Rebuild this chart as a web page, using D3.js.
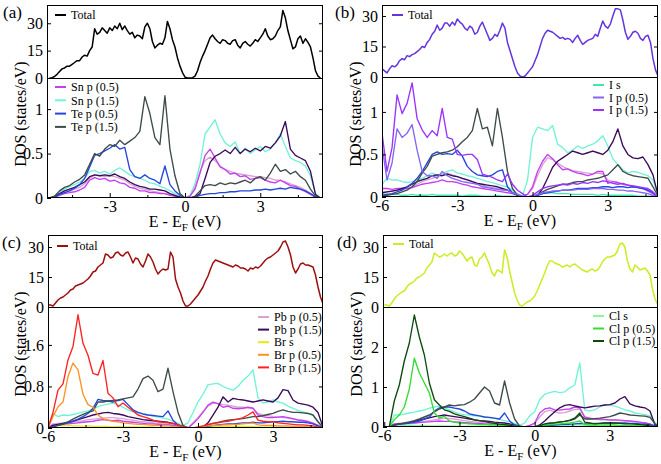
<!DOCTYPE html>
<html><head><meta charset="utf-8">
<script src="https://cdn.jsdelivr.net/npm/d3@7/dist/d3.min.js"></script>
<style>
body{margin:0;background:#fff}
svg{display:block}
text{font-family:"Liberation Serif","Times New Roman",serif;fill:#000}
</style>
</head><body>
<svg id="chart" width="661" height="464"></svg>
<script>
// ---------- DATA ----------
// totals: energy = start + i*0.1 eV ; partial DOS: energy = start + i*0.2 eV
const E_STEP_TOTAL = 0.1;
const E_STEP = 0.2;
const E_START_A = -5.4;
const E_START_BCD = -6.0;

const topTicks = [0, 15, 30];
const xTicksA = [-3, 0, 3];
const xTicksBCD = [-6, -3, 0, 3];
const xMinor = [-4.5, -1.5, 1.5, 4.5];
const botTicksA = [0, 0.5, 1];
const botTicksB = [0, 0.5, 1];
const botTicksC = [0, 0.8, 1.6];
const botTicksD = [0, 1, 2];

// Panel (a)
const totalA = [0,0.2,0.8,2,3.5,5,5.5,6.5,6.5,7.5, 8.5,9.5,9.5,11.5,12.5,12,15,17,27,24, 25,27.5,26,24.5,27.5,26,28.5,27,30,26.5, 28.5,26,24,25,22,23.5,23,21.5,28,30, 27,20,16.5,18,19,18.5,22,31,27,21, 17,11,6.5,3,0.5,0,0,0.2,1,4, 8.5,12,15,18.5,22,23.5,21.5,20,19,21, 20.5,19,18.5,20.5,21,18,16.5,19,20,18.5, 17.5,19,21,20,22,24,27,23,21,21.5, 23,26,28,37,33,26,21,16,17,21.5, 23,19,21.5,19.5,17,11,4,1,0];
const snP05A = [0,0.01,0.03,0.05,0.06,0.07,0.09,0.12,0.2,0.23, 0.21,0.22,0.19,0.2,0.17,0.16,0.12,0.11,0.08,0.08, 0.06,0.06,0.05,0.05,0.03,0.02,0.01, 0, 0.02,0.1,0.28,0.48,0.55,0.45,0.35,0.32,0.27,0.28, 0.24,0.25,0.21,0.22,0.23,0.2,0.18,0.17,0.2,0.17, 0.14,0.13,0.1,0.07,0.04,0.01,0];
const snP15A = [0,0.02,0.07,0.1,0.13,0.15,0.18,0.22,0.3,0.31, 0.28,0.3,0.27,0.31,0.34,0.3,0.26,0.24,0.22,0.2, 0.17,0.16,0.13,0.11,0.08,0.05,0.02, 0, 0.03,0.16,0.38,0.72,0.8,0.88,0.72,0.62,0.58,0.63, 0.5,0.56,0.5,0.54,0.58,0.52,0.55,0.62,0.72,0.58, 0.45,0.42,0.4,0.36,0.25,0.05,0];
const teP05A = [0,0.01,0.04,0.06,0.08,0.11,0.15,0.22,0.35,0.48, 0.5,0.53,0.56,0.6,0.55,0.57,0.32,0.24,0.22,0.26, 0.22,0.2,0.16,0.36,0.15,0.08,0.03, 0, 0,0.01,0.03,0.04,0.05,0.05,0.06,0.06,0.07,0.07, 0.08,0.08,0.08,0.09,0.09,0.1,0.09,0.1,0.11,0.1, 0.12,0.11,0.1,0.08,0.05,0.01,0];
const teP15A = [0,0.02,0.08,0.12,0.14,0.18,0.21,0.26,0.38,0.5, 0.47,0.55,0.6,0.58,0.65,0.6,0.64,0.68,0.75,1.14, 0.95,0.68,0.6,1.15,0.55,0.25,0.05, 0, 0,0.02,0.08,0.14,0.15,0.14,0.17,0.15,0.17,0.16, 0.18,0.2,0.17,0.22,0.24,0.2,0.28,0.38,0.3,0.32, 0.27,0.3,0.24,0.2,0.1,0.02,0];
const xP05A = [0,0.01,0.04,0.06,0.08,0.1,0.12,0.16,0.22,0.26, 0.25,0.24,0.25,0.24,0.22,0.2,0.16,0.13,0.11,0.1, 0.08,0.07,0.06,0.05,0.04,0.02,0.01, 0, 0.02,0.12,0.3,0.42,0.46,0.42,0.36,0.32,0.3,0.28, 0.27,0.26,0.25,0.24,0.24,0.23,0.22,0.2,0.2,0.18, 0.16,0.14,0.12,0.09,0.05,0.01,0];
const xP15A = [0,0.01,0.05,0.08,0.1,0.12,0.15,0.18,0.24,0.26, 0.25,0.26,0.25,0.27,0.24,0.22,0.18,0.15,0.13,0.12, 0.1,0.1,0.09,0.08,0.05,0.03,0.01, 0, 0,0.01,0.05,0.22,0.4,0.47,0.5,0.54,0.5,0.57, 0.5,0.55,0.52,0.56,0.53,0.58,0.56,0.62,0.7,0.86, 0.55,0.48,0.45,0.42,0.3,0.04,0];

// Panel (b)
const totalB = [4,3,2,4,5.5,5,6,8,9,8.5, 10.5,10,11,11.5,12.5,13.5,15,14.5,17,18.5, 21,22.5,25.5,23,24,26.5,26.5,25,27,25.5, 28.5,27,26,24,23,25,24,21,22,25, 27,24,21,18,19,21,20,23,26.5,24, 17,13,9,5,2,0.5,0,0.5,2,3.5, 5,8,11,15,19,21.5,23,22.5,22,21, 20,19,19.5,18.5,19,18.5,17,19,20.5,18, 16,17,18,18.5,19,21,20,24,27.5,25, 24,26,30,33.5,33.5,33,28,22,18.5,20, 22,22.5,21.5,19,18,20,20.5,17,9,3.5, 0.5];
const iSB = [0.04,0.03,0.03,0.03,0.02,0.02,0.03,0.02,0.02,0.02, 0.03,0.02,0.02,0.02,0.02,0.02,0.01,0.02,0.02,0.02, 0.01,0.01,0.01,0.02,0.01,0.01,0.01,0,0,0, 0,0.02,0.04,0.05,0.05,0.04,0.04,0.04,0.03,0.03, 0.03,0.03,0.03,0.02,0.03,0.02,0.02,0.02,0.02,0.02, 0.02,0.01,0.01,0.01,0.01,0];
const iP05B = [0.6,0.2,0.4,0.8,0.7,0.75,0.85,0.55,0.3,0.25, 0.25,0.22,0.3,0.25,0.22,0.2,0.18,0.17,0.16,0.15, 0.12,0.11,0.1,0.09,0.08,0.08,0.05,0.03,0.01,0, 0.01,0.03,0.05,0.06,0.07,0.07,0.08,0.08,0.08,0.09, 0.09,0.09,0.1,0.1,0.1,0.09,0.09,0.08,0.08,0.07, 0.07,0.06,0.05,0.04,0.02,0];
const iP15B = [0.75,0.3,0.58,1.2,0.98,1.1,1.34,0.92,0.79,0.7, 0.78,0.72,1.04,0.7,0.68,0.5,0.49,0.5,0.5,0.44, 0.27,0.25,0.23,0.2,0.18,0.27,0.15,0.08,0.04,0, 0.02,0.06,0.1,0.12,0.13,0.14,0.15,0.14,0.16,0.15, 0.17,0.16,0.18,0.17,0.19,0.18,0.16,0.15,0.16,0.14, 0.13,0.12,0.11,0.1,0.06,0];
const snP15B = [0.15,0.22,0.2,0.2,0.18,0.17,0.18,0.2,0.22,0.25, 0.28,0.26,0.27,0.3,0.32,0.28,0.27,0.25,0.24,0.22, 0.2,0.18,0.17,0.15,0.13,0.12,0.08,0.04,0.01,0.2, 0.7,0.82,0.8,0.78,0.84,0.62,0.58,0.52,0.55,0.6, 0.57,0.6,0.62,0.66,0.72,0.6,0.45,0.38,0.32,0.28, 0.3,0.29,0.27,0.25,0.2,0.03];
const snP05B = [0.1,0.1,0.09,0.1,0.1,0.1,0.11,0.13,0.15,0.16, 0.17,0.18,0.2,0.18,0.18,0.17,0.15,0.14,0.12,0.11, 0.1,0.09,0.08,0.07,0.06,0.05,0.04,0.02,0.01,0.03, 0.12,0.3,0.42,0.5,0.45,0.38,0.32,0.33,0.3,0.28, 0.27,0.25,0.27,0.3,0.3,0.16,0.18,0.17,0.15,0.14, 0.12,0.11,0.1,0.07,0.04,0];
const xP05B = [0.05,0.06,0.07,0.08,0.09,0.1,0.12,0.15,0.18,0.2, 0.22,0.24,0.26,0.28,0.26,0.24,0.22,0.2,0.18,0.16, 0.14,0.12,0.11,0.1,0.09,0.08,0.05,0.03,0.01,0.03, 0.1,0.25,0.38,0.46,0.44,0.4,0.36,0.33,0.31,0.3, 0.29,0.28,0.27,0.28,0.27,0.2,0.18,0.17,0.15,0.14, 0.13,0.12,0.1,0.08,0.05,0];
const xP15B = [0.05,0.06,0.07,0.08,0.1,0.12,0.15,0.18,0.2,0.22, 0.25,0.26,0.25,0.27,0.25,0.24,0.22,0.2,0.18,0.16, 0.15,0.14,0.13,0.12,0.1,0.08,0.05,0.02,0,0, 0,0.02,0.1,0.22,0.35,0.42,0.46,0.5,0.54,0.52, 0.5,0.52,0.54,0.52,0.5,0.55,0.65,0.8,0.6,0.5, 0.46,0.45,0.47,0.38,0.26,0.02];
const teP05B = [0.02,0.03,0.04,0.06,0.08,0.12,0.16,0.22,0.3,0.4, 0.5,0.53,0.5,0.51,0.5,0.55,0.48,0.36,0.3,0.26, 0.25,0.24,0.26,0.3,0.32,0.12,0.05,0.02,0,0, 0,0.02,0.04,0.05,0.06,0.07,0.08,0.08,0.09,0.1, 0.1,0.1,0.11,0.11,0.12,0.12,0.11,0.12,0.12,0.11, 0.12,0.11,0.1,0.08,0.05,0];
const teP15B = [0.01,0.02,0.03,0.04,0.06,0.08,0.12,0.18,0.28,0.36, 0.48,0.5,0.52,0.53,0.55,0.59,0.65,0.7,0.78,1.04, 0.8,0.82,0.6,1.04,0.7,0.3,0.1,0.02,0,0, 0,0.03,0.06,0.09,0.11,0.13,0.15,0.15,0.17,0.18, 0.18,0.2,0.21,0.22,0.24,0.26,0.32,0.38,0.3,0.27, 0.25,0.24,0.23,0.22,0.12,0.01];

// Panel (c)
const totalC = [1,1,0.5,2,3.5,4.5,5,6,7,8.5, 9,10.5,11,11.5,12,13,14,15.5,17.5,18, 20,21,22,26.5,26,24.5,25,27,27.5,26, 25.5,27,27.5,25,22,24.5,24,21.5,20,23, 26.5,25,22.5,19,16.5,18,19,18.5,19,27.5, 25,14,10,7,3,0.5,0.5,1.5,3,4.5, 6,8,10,13,15.5,19,22,23.5,23,22.5, 22,21.5,21,20.5,20,21,20.5,19.5,19.5,19, 18,19.5,19,20,19.5,20.5,22,23.5,24.5,25, 26,27,28,30,32.5,33,30,26,20,17, 19,21.5,22,21,21,20.5,20,16,10,5, 1.5];
const brSC = [0,0.04,0.05,0.04,0.05,0.04,0.04,0.03,0.04,0.03, 0.03,0.03,0.03,0.02,0.03,0.02,0.02,0.02,0.02,0.02, 0.02,0.02,0.01,0.02,0.01,0.01,0.01,0,0,0, 0,0.01,0.02,0.03,0.03,0.03,0.03,0.03,0.03,0.03, 0.03,0.03,0.02,0.02,0.02,0.02,0.02,0.02,0.02,0.02, 0.02,0.01,0.01,0.01,0,0];
const brP05C = [0,0.22,0.41,0.5,0.99,1.25,1.12,0.65,0.45,0.4, 0.25,0.18,0.15,0.13,0.12,0.1,0.09,0.08,0.07,0.07, 0.06,0.05,0.05,0.04,0.04,0.03,0.02,0.01,0,0, 0.01,0.03,0.04,0.05,0.05,0.06,0.06,0.07,0.07,0.08, 0.09,0.1,0.06,0.05,0.05,0.05,0.04,0.04,0.04,0.03, 0.03,0.03,0.02,0.02,0.01,0];
const brP15C = [0,0.3,0.73,0.85,1.31,1.57,2.18,1.63,1.4,1.05, 1.02,1.3,0.67,0.58,0.41,0.48,0.4,0.33,0.25,0.22, 0.19,0.15,0.12,0.11,0.1,0.09,0.06,0.03,0.01,0, 0.02,0.04,0.07,0.09,0.1,0.12,0.13,0.15,0.17,0.2, 0.25,0.31,0.15,0.13,0.12,0.12,0.1,0.09,0.08,0.07, 0.06,0.06,0.05,0.04,0.02,0];
const snP15C = [0,0.28,0.22,0.25,0.24,0.26,0.28,0.31,0.33,0.36, 0.41,0.44,0.46,0.48,0.45,0.4,0.35,0.31,0.29,0.27, 0.25,0.23,0.21,0.19,0.17,0.13,0.09,0.05,0.1,0.3, 0.5,0.65,0.83,0.85,0.86,0.8,0.76,0.73,0.8,0.92, 1.0,1.12,0.58,0.48,0.5,0.54,0.5,0.48,0.42,0.38, 0.34,0.31,0.28,0.25,0.12,0.02];
const snP05C = [0,0.06,0.07,0.08,0.08,0.09,0.1,0.11,0.12,0.13, 0.15,0.16,0.15,0.14,0.15,0.13,0.12,0.11,0.1,0.09, 0.08,0.08,0.07,0.06,0.06,0.05,0.03,0.01,0,0.08, 0.18,0.3,0.44,0.5,0.47,0.4,0.42,0.38,0.37,0.38, 0.4,0.38,0.25,0.22,0.2,0.2,0.21,0.22,0.2,0.18, 0.15,0.14,0.12,0.09,0.05,0];
const pbP05C = [0,0.08,0.09,0.1,0.11,0.12,0.13,0.14,0.16,0.17, 0.18,0.19,0.2,0.2,0.19,0.18,0.16,0.15,0.13,0.12, 0.11,0.1,0.09,0.08,0.07,0.06,0.04,0.02,0,0.1, 0.2,0.32,0.42,0.48,0.47,0.45,0.44,0.42,0.4,0.4, 0.39,0.38,0.28,0.25,0.24,0.22,0.21,0.2,0.19,0.17, 0.16,0.15,0.13,0.1,0.05,0];
const pbP15C = [0,0.05,0.07,0.09,0.11,0.13,0.16,0.19,0.22,0.25, 0.27,0.29,0.3,0.28,0.27,0.25,0.22,0.2,0.18,0.16, 0.15,0.14,0.13,0.12,0.11,0.09,0.06,0.02,0,0, 0,0.02,0.1,0.25,0.4,0.6,0.5,0.57,0.55,0.54, 0.52,0.5,0.52,0.54,0.52,0.5,0.58,0.74,0.72,0.54, 0.48,0.46,0.44,0.4,0.3,0.02];
const teP05C = [0,0.03,0.05,0.07,0.1,0.13,0.17,0.22,0.28,0.38, 0.55,0.53,0.52,0.5,0.53,0.55,0.45,0.35,0.3,0.27, 0.25,0.24,0.23,0.22,0.33,0.15,0.06,0.02,0,0, 0,0.01,0.03,0.05,0.06,0.07,0.08,0.08,0.09,0.1, 0.1,0.11,0.1,0.1,0.11,0.12,0.12,0.13,0.12,0.12, 0.11,0.11,0.1,0.08,0.04,0];
const teP15C = [0,0.02,0.05,0.08,0.12,0.17,0.22,0.26,0.3,0.33, 0.5,0.5,0.52,0.53,0.54,0.56,0.58,0.6,0.75,0.95, 1.0,0.92,0.7,0.75,1.15,0.7,0.3,0.05,0,0, 0,0.03,0.06,0.09,0.11,0.13,0.15,0.16,0.17,0.18, 0.2,0.22,0.22,0.24,0.26,0.28,0.32,0.35,0.32,0.3, 0.3,0.29,0.28,0.25,0.12,0.01];

// Panel (d)
const totalD = [1,1,0.5,2,4,5.5,6.5,7.5,8,10, 11.5,12,13,14.5,15,16,17,19.5,21,22.5, 27,26,25,25.5,26.5,25.5,26.5,27,25.5,26, 28,27,25,23,24.5,25,21,20.5,24,25, 27,24,21,17,15.5,18.5,18,17,28.5,25, 18,12.5,7,3.5,1,0.5,1.5,2.5,3,4, 5.5,8,11,14,17,20.5,23,23,22,21.5, 21,20,20.5,21,20,21,21.5,20.5,19.5,18.5, 18,17.5,18.5,19,18,18.5,20,22.5,24,25, 25,25.5,26,28,31.5,32,30,23,19,17.5, 21,20,18.5,19,19.5,18,16,9,4,1.5, 0];
const clSD = [0,0,0.03,0.04,0.04,0.05,0.04,0.04,0.04,0.03, 0.03,0.03,0.03,0.03,0.02,0.02,0.02,0.02,0.02,0.02, 0.02,0.01,0.01,0.01,0.01,0.01,0.01,0,0,0, 0,0.01,0.02,0.03,0.03,0.04,0.04,0.04,0.05,0.06, 0.03,0.03,0.03,0.02,0.02,0.02,0.02,0.02,0.02,0.02, 0.02,0.01,0.01,0.01,0,0];
const clP05D = [0,0,0.18,0.3,0.5,0.95,1.72,1.35,1.1,0.85, 0.35,0.22,0.27,0.15,0.12,0.1,0.09,0.08,0.07,0.06, 0.06,0.05,0.05,0.04,0.04,0.03,0.02,0.01,0,0, 0,0.02,0.05,0.06,0.07,0.08,0.09,0.1,0.12,0.15, 0.06,0.05,0.05,0.05,0.05,0.05,0.05,0.04,0.04,0.04, 0.04,0.03,0.03,0.02,0.01,0];
const clP15D = [0,0,0.65,1.05,1.65,2.1,2.8,2.25,1.8,1.1, 0.68,0.55,0.43,0.39,0.33,0.29,0.26,0.22,0.18,0.16, 0.14,0.11,0.09,0.07,0.06,0.04,0.02,0.01,0,0, 0,0.03,0.08,0.1,0.11,0.13,0.14,0.17,0.22,0.35, 0.12,0.1,0.08,0.09,0.1,0.1,0.1,0.09,0.08,0.08, 0.07,0.06,0.05,0.03,0.01,0];
const snP15D = [0,0,0.3,0.3,0.32,0.35,0.37,0.4,0.43,0.47, 0.5,0.52,0.48,0.43,0.38,0.33,0.31,0.3,0.28,0.27, 0.25,0.23,0.21,0.19,0.16,0.13,0.09,0.04,0.1,0.28, 0.38,0.68,0.82,0.86,0.89,0.86,0.88,0.98,1.05,1.6, 0.42,0.4,0.43,0.5,0.56,0.54,0.52,0.48,0.43,0.4, 0.35,0.33,0.31,0.28,0.12,0];
const snP05D = [0,0,0.08,0.09,0.09,0.1,0.1,0.11,0.12,0.13, 0.14,0.15,0.14,0.14,0.13,0.12,0.11,0.1,0.09,0.09, 0.08,0.07,0.07,0.06,0.05,0.04,0.03,0.01,0,0.04, 0.1,0.35,0.45,0.48,0.43,0.42,0.44,0.45,0.5,0.48, 0.25,0.22,0.2,0.2,0.19,0.18,0.18,0.17,0.16,0.15, 0.14,0.12,0.1,0.08,0.03,0];
const xP05D = [0,0,0.06,0.07,0.08,0.09,0.1,0.12,0.14,0.16, 0.18,0.2,0.22,0.21,0.2,0.18,0.16,0.14,0.13,0.12, 0.11,0.1,0.09,0.08,0.07,0.05,0.03,0.01,0,0.03, 0.08,0.25,0.38,0.42,0.38,0.35,0.36,0.4,0.44,0.45, 0.22,0.2,0.19,0.18,0.18,0.17,0.17,0.16,0.15,0.14, 0.13,0.11,0.1,0.07,0.02,0];
const xP15D = [0,0,0.05,0.07,0.09,0.11,0.14,0.17,0.2,0.23, 0.26,0.28,0.3,0.28,0.26,0.24,0.22,0.2,0.18,0.16, 0.15,0.14,0.12,0.11,0.1,0.08,0.05,0.02,0,0, 0,0.05,0.15,0.27,0.38,0.48,0.54,0.56,0.53,0.5, 0.48,0.5,0.52,0.53,0.55,0.56,0.6,0.7,0.76,0.58, 0.53,0.5,0.48,0.4,0.05,0];
const teP05D = [0,0,0.05,0.07,0.08,0.1,0.12,0.15,0.2,0.25, 0.4,0.48,0.5,0.5,0.47,0.45,0.4,0.33,0.3,0.28, 0.25,0.24,0.22,0.2,0.35,0.15,0.05,0.01,0,0, 0,0.01,0.03,0.04,0.05,0.06,0.07,0.07,0.08,0.09, 0.08,0.08,0.09,0.09,0.1,0.1,0.1,0.1,0.1,0.09, 0.09,0.08,0.07,0.06,0.02,0];
const teP15D = [0,0,0.05,0.08,0.1,0.13,0.16,0.2,0.25,0.3, 0.38,0.45,0.5,0.55,0.53,0.55,0.56,0.62,0.7,0.85, 1.0,0.9,0.6,0.55,1.15,0.6,0.2,0.02,0,0, 0,0.03,0.06,0.08,0.1,0.12,0.14,0.16,0.2,0.3, 0.2,0.2,0.21,0.22,0.24,0.26,0.3,0.35,0.33,0.3, 0.29,0.28,0.27,0.24,0.08,0];

// ---------- COLOURS ----------
const C = {
  snP05:'#c43ff0', snP15:'#72f2d6', teP05:'#2346dc', teP15:'#3e4b4b',
  xP05:'#d9a2d2', xP15:'#3a0a5c',
  iS:'#3ee6b4', iP05:'#8466f2', iP15:'#9a33ff',
  brS:'#e6ea10', brP05:'#ff9224', brP15:'#ff2222',
  clS:'#8cf5a0', clP05:'#34dd34', clP15:'#0e4a0e'
};

// ---------- PANELS ----------
const panels = [
 {label:'(a)', lx:3, ly:18, x0:47, x1:323, yTop:5, yMid:78, yBot:198,
  xDomain:[-5.5,5.5], eStart:E_START_A, topMax:40, botMax:1.35, botTicks:botTicksA, xTicks:xTicksA,
  total:totalA, totalColor:'#000000', ylabX:26, ylabY:114,
  legTop:{x:55, y:15}, legBot:{x:55, y:87, dy:13.3},
  series:[
    {name:'Sn p (1.5)', v:snP15A, c:C.snP15, leg:1},
    {v:xP05A, c:C.xP05},
    {name:'Sn p (0.5)', v:snP05A, c:C.snP05, leg:0},
    {v:xP15A, c:C.xP15},
    {name:'Te p (0.5)', v:teP05A, c:C.teP05, leg:2},
    {name:'Te p (1.5)', v:teP15A, c:C.teP15, leg:3}
  ]},
 {label:'(b)', lx:335, ly:18, x0:382, x1:658, yTop:5, yMid:77, yBot:197,
  xDomain:[-6,5], eStart:E_START_BCD, topMax:35.4, botMax:1.41, botTicks:botTicksB, xTicks:xTicksBCD,
  total:totalB, totalColor:'#6434de', ylabX:361, ylabY:114,
  legTop:{x:392, y:15}, legBot:{x:593, y:85, dy:12.5},
  series:[
    {name:'I s', v:iSB, c:C.iS, leg:0},
    {v:xP05B, c:C.xP05},
    {v:snP05B, c:C.snP05},
    {v:snP15B, c:C.snP15},
    {v:xP15B, c:C.xP15},
    {v:teP05B, c:C.teP05},
    {v:teP15B, c:C.teP15},
    {name:'I p (0.5)', v:iP05B, c:C.iP05, leg:1},
    {name:'I p (1.5)', v:iP15B, c:C.iP15, leg:2}
  ]},
 {label:'(c)', lx:2, ly:248, x0:48, x1:323, yTop:235, yMid:307, yBot:428,
  xDomain:[-6,5], eStart:E_START_BCD, topMax:36, botMax:2.33, botTicks:botTicksC, xTicks:xTicksBCD,
  total:totalC, totalColor:'#9e0f10', ylabX:26, ylabY:344,
  legTop:{x:57, y:246}, legBot:{x:258, y:317, dy:12.6},
  series:[
    {name:'Br s', v:brSC, c:C.brS, leg:2},
    {name:'Pb p (0.5)', v:pbP05C, c:C.xP05, leg:0},
    {v:snP05C, c:C.snP05},
    {v:snP15C, c:C.snP15},
    {name:'Pb p (1.5)', v:pbP15C, c:C.xP15, leg:1},
    {v:teP05C, c:C.teP05},
    {v:teP15C, c:C.teP15},
    {name:'Br p (0.5)', v:brP05C, c:C.brP05, leg:3},
    {name:'Br p (1.5)', v:brP15C, c:C.brP15, leg:4}
  ]},
 {label:'(d)', lx:337, ly:248, x0:383, x1:658, yTop:235, yMid:307, yBot:427,
  xDomain:[-6.05,4.92], eStart:E_START_BCD, topMax:36, botMax:3.0, botTicks:botTicksD, xTicks:xTicksBCD,
  total:totalD, totalColor:'#cbec20', ylabX:362, ylabY:344,
  legTop:{x:393, y:244}, legBot:{x:593, y:316, dy:12.5},
  series:[
    {name:'Cl s', v:clSD, c:C.clS, leg:0},
    {v:xP05D, c:C.xP05},
    {v:snP05D, c:C.snP05},
    {v:snP15D, c:C.snP15},
    {v:xP15D, c:C.xP15},
    {v:teP05D, c:C.teP05},
    {v:teP15D, c:C.teP15},
    {name:'Cl p (0.5)', v:clP05D, c:C.clP05, leg:1},
    {name:'Cl p (1.5)', v:clP15D, c:C.clP15, leg:2}
  ]}
];

// ---------- DRAW ----------
const FONT = '"Liberation Serif","Times New Roman",serif';
const svg = d3.select('#chart');
const defs = svg.append('defs');
const fmtX = d => (d < 0 ? '-' + Math.abs(d) : String(d));

function styleAxis(sel) {
  sel.select('.domain').remove();
  sel.attr('font-family', FONT).attr('font-size', 16);
  sel.selectAll('line').attr('stroke', '#000');
  sel.selectAll('text').attr('fill', '#000');
}

panels.forEach((p, idx) => {
  const g = svg.append('g');
  const x = d3.scaleLinear().domain(p.xDomain).range([p.x0, p.x1]);
  const yT = d3.scaleLinear().domain([0, p.topMax]).range([p.yMid, p.yTop]);
  const yB = d3.scaleLinear().domain([0, p.botMax]).range([p.yBot, p.yMid]);

  defs.append('clipPath').attr('id', 'ct' + idx).append('rect')
    .attr('x', p.x0).attr('y', p.yTop).attr('width', p.x1 - p.x0).attr('height', p.yMid - p.yTop);
  defs.append('clipPath').attr('id', 'cb' + idx).append('rect')
    .attr('x', p.x0).attr('y', p.yMid).attr('width', p.x1 - p.x0).attr('height', p.yBot - p.yMid);

  const lineT = d3.line().x((d, i) => x(p.eStart + i * E_STEP_TOTAL)).y(d => yT(d));
  const lineB = d3.line().x((d, i) => x(p.eStart + i * E_STEP)).y(d => yB(d));

  g.append('g').attr('clip-path', `url(#ct${idx})`).append('path')
    .attr('d', lineT(p.total)).attr('fill', 'none').attr('stroke', p.totalColor)
    .attr('stroke-width', 1.5).attr('stroke-linejoin', 'round');

  const gb = g.append('g').attr('clip-path', `url(#cb${idx})`);
  p.series.forEach(s => {
    gb.append('path').attr('d', lineB(s.v)).attr('fill', 'none').attr('stroke', s.c)
      .attr('stroke-width', 1.35).attr('stroke-linejoin', 'round');
  });

  // frames
  g.append('rect').attr('x', p.x0 + 0.5).attr('y', p.yTop + 0.5)
    .attr('width', p.x1 - p.x0 - 1).attr('height', p.yBot - p.yTop - 1)
    .attr('fill', 'none').attr('stroke', '#000').attr('stroke-width', 1);
  g.append('line').attr('x1', p.x0).attr('x2', p.x1).attr('y1', p.yMid + 0.5).attr('y2', p.yMid + 0.5)
    .attr('stroke', '#000').attr('stroke-width', 1);

  // y axes
  g.append('g').attr('transform', `translate(${p.x0},0)`)
    .call(d3.axisLeft(yT).tickValues(topTicks).tickSize(-4).tickPadding(4).tickFormat(d => String(d)))
    .call(styleAxis);
  g.append('g').attr('transform', `translate(${p.x1},0)`)
    .call(d3.axisRight(yT).tickValues(topTicks.slice(1)).tickSize(-4).tickFormat(''))
    .call(styleAxis);
  g.append('g').attr('transform', `translate(${p.x0},0)`)
    .call(d3.axisLeft(yB).tickValues(p.botTicks).tickSize(-4).tickPadding(4).tickFormat(d => String(d)))
    .call(styleAxis);
  g.append('g').attr('transform', `translate(${p.x1},0)`)
    .call(d3.axisRight(yB).tickValues(p.botTicks.slice(1)).tickSize(-4).tickFormat(''))
    .call(styleAxis);

  // x axis
  g.append('g').attr('transform', `translate(0,${p.yBot})`)
    .call(d3.axisBottom(x).tickValues(p.xTicks).tickSize(-5).tickPadding(2.5).tickFormat(fmtX))
    .call(styleAxis);
  g.append('g').attr('transform', `translate(0,${p.yBot})`)
    .call(d3.axisBottom(x).tickValues(xMinor).tickSize(-3).tickFormat(''))
    .call(styleAxis);

  // axis titles
  const xt = g.append('text').attr('x', (p.x0 + p.x1) / 2).attr('y', p.yBot + 28.5)
    .attr('text-anchor', 'middle').attr('font-size', 16);
  xt.append('tspan').text('E - E');
  xt.append('tspan').attr('font-size', 11).attr('dy', 4).text('F');
  xt.append('tspan').attr('dy', -4).text(' (eV)');

  g.append('text').attr('transform', `translate(${p.ylabX},${p.ylabY}) rotate(-90)`)
    .attr('text-anchor', 'middle').attr('font-size', 16).text('DOS (states/eV)');

  // panel label
  g.append('text').attr('x', p.lx).attr('y', p.ly).attr('font-size', 17).text(p.label);

  // legends
  const lg = g.append('g');
  lg.append('line').attr('x1', p.legTop.x).attr('x2', p.legTop.x + 11)
    .attr('y1', p.legTop.y).attr('y2', p.legTop.y).attr('stroke', p.totalColor).attr('stroke-width', 2);
  lg.append('text').attr('x', p.legTop.x + 16).attr('y', p.legTop.y).attr('dy', '0.35em')
    .attr('font-size', 12).text('Total');

  p.series.filter(s => s.name).forEach(s => {
    const yy = p.legBot.y + s.leg * p.legBot.dy;
    lg.append('line').attr('x1', p.legBot.x).attr('x2', p.legBot.x + 11)
      .attr('y1', yy).attr('y2', yy).attr('stroke', s.c).attr('stroke-width', 2);
    lg.append('text').attr('x', p.legBot.x + 16).attr('y', yy).attr('dy', '0.35em')
      .attr('font-size', 12).text(s.name);
  });
});
</script>
</body></html>
